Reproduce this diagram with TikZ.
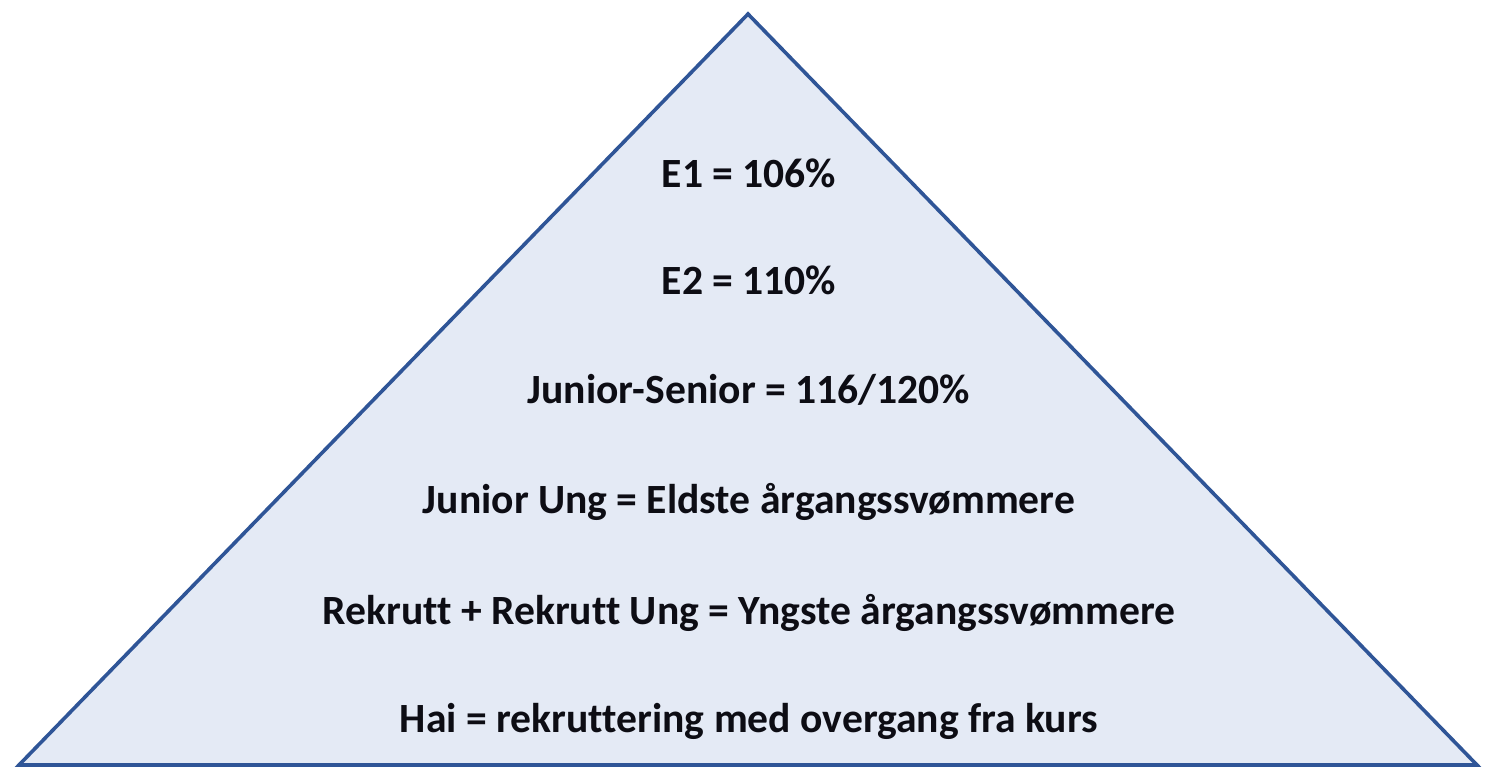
\documentclass[tikz,border=0pt]{standalone}
\usepackage{fontspec}
\setmainfont[Ligatures=NoCommon]{Carlito}
\usetikzlibrary{positioning}
\definecolor{pyrfill}{HTML}{E4EAF5}
\definecolor{pyrline}{HTML}{2F5597}
\definecolor{pyrtext}{HTML}{0D0D14}

\begin{document}
\begin{tikzpicture}[x=0.5pt,y=-0.5pt]
\tikzstyle{level}=[anchor=base,inner sep=0pt,text=pyrtext,font=\fontsize{20.8}{25}\selectfont\bfseries]
\tikzstyle{pyramid}=[draw=pyrline,fill=pyrfill,line width=1.8pt,line join=miter]

\useasboundingbox (0,0) rectangle (1500,783);

\coordinate (top) at (748,14);
\coordinate (left) at (19,765);
\coordinate (right) at (1477,765);
\draw[pyramid] (top) -- (right) -- (left) -- cycle;

\node[level] (e1) at (749,187) {E1 = 106\%};
\node[level] (e2) at (749,294) {E2 = 110\%};
\node[level] (js) at (749,403) {Junior-Senior = 116/120\%};
\node[level] (ju) at (749,513) {Junior Ung = Eldste årgangssvømmere};
\node[level] (rek) at (749,624) {Rekrutt + Rekrutt Ung = Yngste årgangssvømmere};
\node[level] (hai) at (749,732) {Hai = rekruttering med overgang fra kurs};
\end{tikzpicture}
\end{document}
